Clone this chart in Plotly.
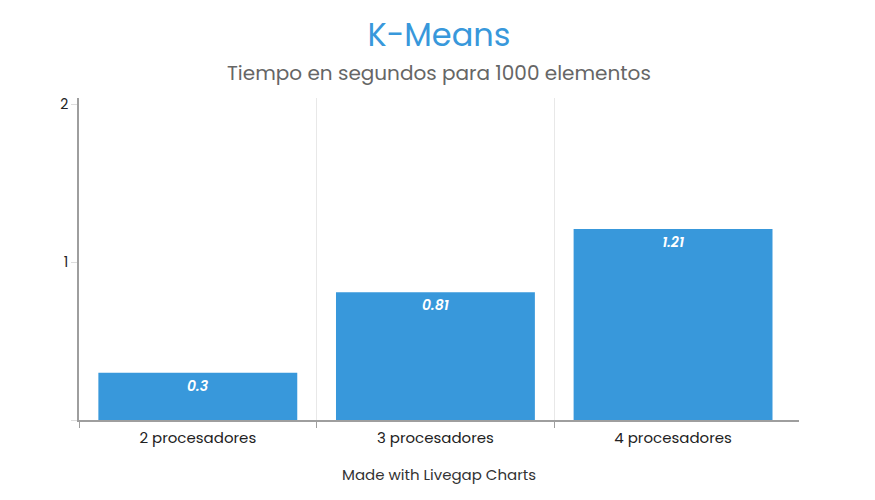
import plotly.graph_objects as go

categories = ["2 procesadores", "3 procesadores", "4 procesadores"]
values = [0.3, 0.81, 1.21]
value_labels = ["0.3", "0.81", "1.21"]
y_tick_vals = [0, 1, 2]
y_tick_text = ["", "1", "2"]

title = "K-Means"
subtitle = "Tiempo en segundos para 1000 elementos"
footer = "Made with Livegap Charts"

FONT = "Poppins, Open Sans, sans-serif"
x_pos = list(range(len(categories)))

OFF = 8  # page body margin offset
PLOT_TOP, PLOT_BOTTOM = 98 - OFF, 420 - OFF
PLOT_LEFT, PLOT_RIGHT = 79 - OFF, 799 - OFF


def paper_y(px):
    return (PLOT_BOTTOM - (px - OFF)) / (PLOT_BOTTOM - PLOT_TOP)


fig = go.Figure(go.Bar(
    x=x_pos, y=values, width=0.837,
    marker=dict(color="#3898db", line=dict(width=0)),
    text=value_labels, textposition="inside", insidetextanchor="end",
    textfont=dict(family=FONT, size=14, color="white", style="italic", weight=600),
    constraintext="none", hoverinfo="skip",
))

fig.update_layout(
    template="none",
    width=875, height=500,
    margin=dict(l=PLOT_LEFT, r=875 - PLOT_RIGHT, t=PLOT_TOP, b=500 - PLOT_BOTTOM, pad=0),
    paper_bgcolor="white", plot_bgcolor="white",
    font=dict(family=FONT, color="#333"),
    showlegend=False,
    title=dict(text=title, x=0.5, xref="paper", xanchor="center",
               y=1 - (35 - OFF) / 500, yanchor="middle",
               font=dict(family=FONT, size=32, color="#3898db")),
    xaxis=dict(
        range=[-0.5, 2.53], tickvals=x_pos, ticktext=categories, ticks="",
        showgrid=False, zeroline=False, automargin=False, ticklabelstandoff=3,
        showline=True, linecolor="#9e9e9e", linewidth=2,
        tickfont=dict(family=FONT, size=15, color="#222"),
        minor=dict(tickvals=[-0.5, 0.5, 1.5], ticks="outside", ticklen=6,
                   tickcolor="#9e9e9e", tickwidth=1, showgrid=True,
                   gridcolor="#e8e8e8", gridwidth=1),
    ),
    yaxis=dict(
        range=[0, 2.04], tickvals=y_tick_vals, ticktext=y_tick_text,
        ticks="outside", ticklen=6, tickcolor="#dddddd",
        showgrid=False, zeroline=False, automargin=False,
        showline=True, linecolor="#9e9e9e", linewidth=2,
        tickfont=dict(family=FONT, size=14, color="#222"),
    ),
    annotations=[
        dict(text=subtitle, x=0.5, xref="paper", y=paper_y(73), yref="paper",
             xanchor="center", yanchor="middle", showarrow=False,
             font=dict(family=FONT, size=20, color="#666")),
        dict(text=footer, x=0.5, xref="paper", y=paper_y(474), yref="paper",
             xanchor="center", yanchor="middle", showarrow=False,
             font=dict(family=FONT, size=15, color="#333")),
    ],
)

fig.write_html("out.html")
